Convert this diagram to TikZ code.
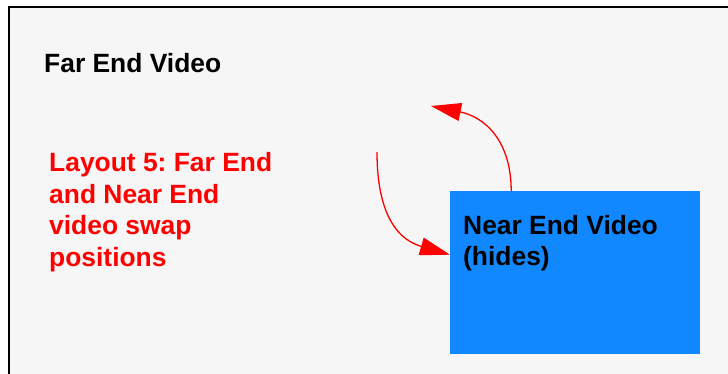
\documentclass[tikz,border=0pt]{standalone}
\usepackage{fontspec}
\setmainfont{Liberation Sans}
\usetikzlibrary{arrows.meta}
\definecolor{bggray}{HTML}{F6F6F6}
\definecolor{boxblue}{HTML}{1188FF}
\definecolor{swapred}{HTML}{FF0000}
\frenchspacing
\begin{document}
\begin{tikzpicture}[x=1pt,y=-1pt,
  lbl/.style={inner sep=0pt,font=\fontsize{26.4}{31.6}\selectfont\bfseries,align=left},
  swaparrow/.style={draw=swapred,line width=1.3pt,-{Triangle[length=30pt,width=18pt]}}]
\useasboundingbox (0,0) rectangle (728,373);
\clip (0,0) rectangle (728,373);
\node[draw=black,line width=2pt,fill=bggray,minimum width=740pt,minimum height=380pt,anchor=north west,inner sep=0pt] (frame) at (8,6) {};
\node[fill=boxblue,minimum width=250pt,minimum height=163pt,anchor=north west,inner sep=0pt] (near) at (450,191) {};
\node[lbl,anchor=base west] (far) at (44,72) {Far End Video};
\node[lbl,anchor=base west,text=swapred] (caption) at (49,266.5) {Layout 5: Far End\\and Near End\\video swap\\positions};
\node[lbl,anchor=base west] (neartext) at (463,265.6) {Near End Video\\(hides)};
\coordinate (upstart) at ([xshift=-64pt]near.north);
\coordinate (uptip) at (431,106);
\coordinate (downstart) at (377,152);
\coordinate (downtip) at ([yshift=18pt]near.west);
\draw[swaparrow] (upstart) .. controls ([yshift=50pt]upstart) and (485,117) .. (uptip);
\draw[swaparrow] (downstart) .. controls (377,205) and (392,238) .. (downtip);
\end{tikzpicture}
\end{document}
